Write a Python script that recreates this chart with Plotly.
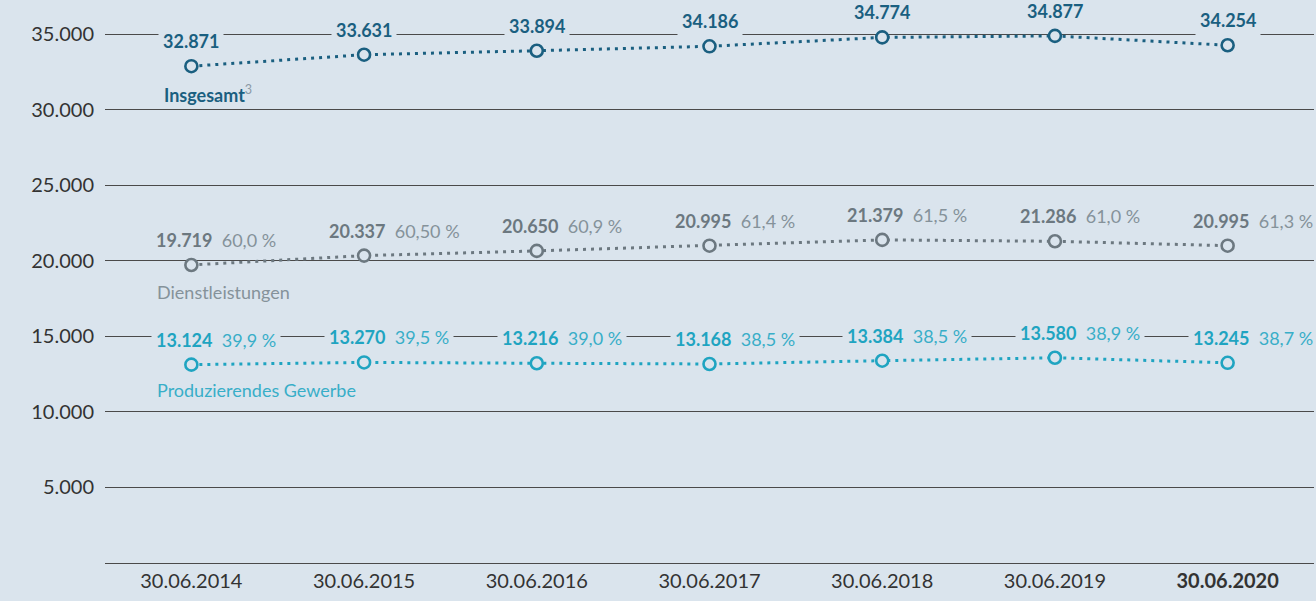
import plotly.graph_objects as go

dates = ["30.06.2014", "30.06.2015", "30.06.2016", "30.06.2017", "30.06.2018", "30.06.2019", "30.06.2020"]
tick_text = ["30.06.2014", "30.06.2015", "30.06.2016", "30.06.2017", "30.06.2018", "30.06.2019", "<b>30.06.2020</b>"]

insgesamt = [32871, 33631, 33894, 34186, 34774, 34877, 34254]
dienst = [19719, 20337, 20650, 20995, 21379, 21286, 20995]
dienst_pct = ["60,0 %", "60,50 %", "60,9 %", "61,4 %", "61,5 %", "61,0 %", "61,3 %"]
prod = [13124, 13270, 13216, 13168, 13384, 13580, 13245]
prod_pct = ["39,9 %", "39,5 %", "39,0 %", "38,5 %", "38,5 %", "38,9 %", "38,7 %"]

y_ticks = [5000, 10000, 15000, 20000, 25000, 30000, 35000]
y_tick_text = ["5.000", "10.000", "15.000", "20.000", "25.000", "30.000", "35.000"]

BG = "#dae4ed"
C_TOTAL = "#1a5f80"
C_SERV = "#6c7880"
C_SERV_LIGHT = "#85929a"
C_PROD = "#1fa4c1"
C_PROD_LIGHT = "#38aec8"
FONT = "Lato"


def fmt(v):
    return f"{v:,}".replace(",", ".")


fig = go.Figure()

for vals, col in [(insgesamt, C_TOTAL), (dienst, C_SERV), (prod, C_PROD)]:
    fig.add_trace(go.Scatter(
        x=dates, y=vals, mode="lines+markers",
        line=dict(color=col, width=3, dash="3px,5px"),
        marker=dict(size=12, color=BG, line=dict(color=col, width=2.6)),
        hoverinfo="skip", showlegend=False,
    ))

ann = []
for d, v in zip(dates, insgesamt):
    ann.append(dict(x=d, y=v, yshift=25, xanchor="center", yanchor="middle", showarrow=False,
                    text=f"<b>{fmt(v)}</b>", font=dict(family=FONT, size=18, color=C_TOTAL),
                    bgcolor=BG, borderpad=4))
for d, v, p in zip(dates, dienst, dienst_pct):
    ann.append(dict(x=d, y=v, yshift=25, xshift=-40, xanchor="left", yanchor="middle", showarrow=False,
                    text=f"<b>{fmt(v)}</b>  <span style='color:{C_SERV_LIGHT}'>{p}</span>",
                    font=dict(family=FONT, size=18, color=C_SERV), bgcolor=BG, borderpad=4))
for d, v, p in zip(dates, prod, prod_pct):
    ann.append(dict(x=d, y=v, yshift=25, xshift=-40, xanchor="left", yanchor="middle", showarrow=False,
                    text=f"<b>{fmt(v)}</b>  <span style='color:{C_PROD_LIGHT}'>{p}</span>",
                    font=dict(family=FONT, size=18, color=C_PROD), bgcolor=BG, borderpad=4))

ann.append(dict(x=dates[0], y=insgesamt[0], yshift=-28, xshift=-29, xanchor="left", yanchor="middle",
                showarrow=False, text=f"<b>Insgesamt</b><sup><span style='color:#8a9aa5'>3</span></sup>",
                font=dict(family=FONT, size=18, color=C_TOTAL)))
ann.append(dict(x=dates[0], y=dienst[0], yshift=-27, xshift=-36, xanchor="left", yanchor="middle",
                showarrow=False, text="Dienstleistungen",
                font=dict(family=FONT, size=18, color=C_SERV_LIGHT)))
ann.append(dict(x=dates[0], y=prod[0], yshift=-25, xshift=-36, xanchor="left", yanchor="middle",
                showarrow=False, text="Produzierendes Gewerbe",
                font=dict(family=FONT, size=18, color=C_PROD_LIGHT)))

fig.update_layout(
    width=1316, height=601,
    margin=dict(l=105, r=2, t=0, b=38),
    paper_bgcolor=BG, plot_bgcolor=BG,
    font=dict(family=FONT, color="#333333"),
    annotations=ann,
    xaxis=dict(type="category", range=[-0.5, 6.5], tickvals=dates, ticktext=tick_text,
               showgrid=False, zeroline=False, showline=True, linecolor="#4a4a4a", linewidth=1.3,
               ticks="", tickfont=dict(family=FONT, size=20, color="#333333")),
    yaxis=dict(range=[0, 37250], tickvals=y_ticks, ticktext=y_tick_text,
               showgrid=True, gridcolor="#4a4a4a", gridwidth=1.3, zeroline=False,
               showline=False, ticks="", ticklabelstandoff=10,
               tickfont=dict(family=FONT, size=20, color="#333333")),
)

fig.write_html("out.html", include_plotlyjs=True, config={"displayModeBar": False},
               post_script="document.body.style.margin='0';document.body.style.overflow='hidden';")
